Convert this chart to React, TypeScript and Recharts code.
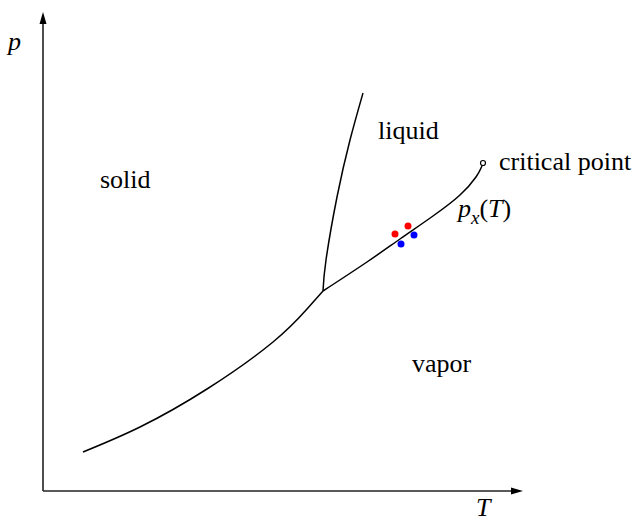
import { ComposedChart, Line, Scatter, XAxis, YAxis } from "recharts";

// coordinates: T = horizontal position, p = height above the bottom edge
const H = 523;

const sublimation = [
  { T: 83, p: H - 452 },
  { T: 140, p: H - 427 },
  { T: 207, p: H - 389 },
  { T: 273, p: H - 342 },
  { T: 307, p: H - 309 },
  { T: 323, p: H - 291 },
];

const vaporization = [
  { T: 323, p: H - 291 },
  { T: 367, p: H - 262 },
  { T: 400, p: H - 239 },
  { T: 433, p: H - 216 },
  { T: 460, p: H - 195 },
  { T: 476, p: H - 177 },
  { T: 482, p: H - 166 },
];

const melting = [
  { T: 323, p: H - 291 },
  { T: 326, p: H - 260 },
  { T: 337, p: H - 197 },
  { T: 350, p: H - 140 },
  { T: 363, p: H - 93 },
];

const xAxisLine = [
  { T: 43, p: H - 491 },
  { T: 518, p: H - 491 },
];
const yAxisLine = [
  { T: 43, p: H - 491 },
  { T: 43, p: H - 17 },
];
const arrows = [
  { T: 523, p: H - 491, dir: "right" },
  { T: 43, p: H - 12, dir: "up" },
];

const criticalPoint = [{ T: 483, p: H - 163 }];
const redDots = [
  { T: 395, p: H - 234 },
  { T: 408, p: H - 226 },
];
const blueDots = [
  { T: 401, p: H - 244 },
  { T: 414, p: H - 235 },
];

const labels = [
  { T: 100, p: H - 188, text: "solid", italic: false },
  { T: 378, p: H - 139, text: "liquid", italic: false },
  { T: 412, p: H - 372, text: "vapor", italic: false },
  { T: 499, p: H - 170, text: "critical point", italic: false },
  { T: 8, p: H - 50, text: "p", italic: true },
  { T: 476, p: H - 516, text: "T", italic: true },
  { T: 458, p: H - 217, text: "px", italic: true },
];

const font = "Liberation Serif, serif";

const Arrow = (props: any) => {
  const { cx, cy, payload } = props;
  const pts =
    payload.dir === "right"
      ? `${cx},${cy} ${cx - 12},${cy - 3.5} ${cx - 12},${cy + 3.5}`
      : `${cx},${cy} ${cx - 3.5},${cy + 12} ${cx + 3.5},${cy + 12}`;
  return <polygon points={pts} fill="#000" />;
};

const Label = (props: any) => {
  const { cx, cy, payload } = props;
  if (payload.text === "px") {
    return (
      <text x={cx} y={cy} fontFamily={font} fontSize={26} fill="#000">
        <tspan fontStyle="italic">p</tspan>
        <tspan fontStyle="italic" fontSize={19} dy={7}>x</tspan>
        <tspan dy={-7}>(</tspan>
        <tspan fontStyle="italic">T</tspan>
        <tspan>)</tspan>
      </text>
    );
  }
  return (
    <text
      x={cx}
      y={cy}
      fontFamily={font}
      fontSize={26}
      fontStyle={payload.italic ? "italic" : "normal"}
      fill="#000"
    >
      {payload.text}
    </text>
  );
};

export default function App() {
  return (
    <div style={{ position: "absolute", left: 0, top: 0, background: "#fff" }}>
      <ComposedChart width={637} height={523} margin={{ top: 0, right: 0, bottom: 0, left: 0 }}>
        <XAxis type="number" dataKey="T" domain={[0, 637]} hide />
        <YAxis type="number" dataKey="p" domain={[0, 523]} hide />
        <Line data={xAxisLine} dataKey="p" stroke="#222" strokeWidth={1.6} dot={false} isAnimationActive={false} />
        <Line data={yAxisLine} dataKey="p" stroke="#222" strokeWidth={1.6} dot={false} isAnimationActive={false} />
        <Scatter data={arrows} dataKey="p" shape={<Arrow />} isAnimationActive={false} />
        <Line data={sublimation} dataKey="p" type="natural" stroke="#000" strokeWidth={1.5} dot={false} isAnimationActive={false} />
        <Line data={vaporization} dataKey="p" type="natural" stroke="#000" strokeWidth={1.5} dot={false} isAnimationActive={false} />
        <Line data={melting} dataKey="p" type="natural" stroke="#000" strokeWidth={1.5} dot={false} isAnimationActive={false} />
        <Scatter
          data={criticalPoint}
          dataKey="p"
          shape={(p: any) => <circle cx={p.cx} cy={p.cy} r={2.5} fill="#fff" stroke="#000" strokeWidth={1.2} />}
          isAnimationActive={false}
        />
        <Scatter
          data={redDots}
          dataKey="p"
          shape={(p: any) => <circle cx={p.cx} cy={p.cy} r={3.5} fill="#f00" />}
          isAnimationActive={false}
        />
        <Scatter
          data={blueDots}
          dataKey="p"
          shape={(p: any) => <circle cx={p.cx} cy={p.cy} r={3.5} fill="#00f" />}
          isAnimationActive={false}
        />
        <Scatter data={labels} dataKey="p" shape={<Label />} isAnimationActive={false} />
      </ComposedChart>
    </div>
  );
}
